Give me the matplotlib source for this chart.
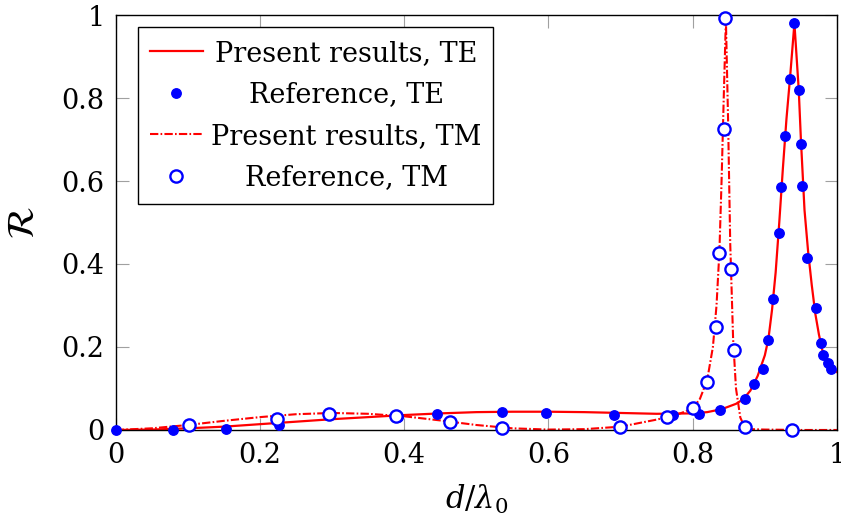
import numpy as np
import matplotlib
matplotlib.use("Agg")
import matplotlib.pyplot as plt

# ---- data -----------------------------------------------------------------
te_line_x = [0, 0.05, 0.1, 0.15, 0.2, 0.25, 0.3, 0.35, 0.4, 0.45, 0.5, 0.55,
             0.6, 0.65, 0.7, 0.75, 0.8, 0.82, 0.84, 0.86, 0.87, 0.88, 0.89,
             0.9, 0.905, 0.91, 0.915, 0.92, 0.925, 0.93, 0.935, 0.941, 0.947,
             0.95, 0.955, 0.96, 0.965, 0.97, 0.975, 0.98, 0.99, 1.0]
te_line_y = [0, 0.001, 0.004, 0.008, 0.014, 0.020, 0.026, 0.031, 0.036, 0.040,
             0.043, 0.044, 0.044, 0.043, 0.041, 0.039, 0.040, 0.043, 0.050,
             0.063, 0.074, 0.095, 0.13, 0.18, 0.22, 0.29, 0.38, 0.50, 0.63,
             0.75, 0.85, 0.98, 0.82, 0.70, 0.53, 0.43, 0.35, 0.28, 0.23, 0.19,
             0.16, 0.14]

te_ref_x = [0.0, 0.079, 0.153, 0.227, 0.391, 0.445, 0.536, 0.597, 0.691,
            0.772, 0.809, 0.838, 0.872, 0.885, 0.897, 0.904, 0.912, 0.919,
            0.923, 0.928, 0.935, 0.941, 0.947, 0.950, 0.952, 0.959, 0.971,
            0.978, 0.981, 0.988, 0.992]
te_ref_y = [0.0, 0.0, 0.003, 0.012, 0.031, 0.039, 0.043, 0.042, 0.036, 0.036,
            0.038, 0.049, 0.074, 0.112, 0.147, 0.217, 0.316, 0.475, 0.586,
            0.708, 0.847, 0.981, 0.819, 0.690, 0.588, 0.415, 0.293, 0.209,
            0.181, 0.162, 0.146]

tm_line_x = [0, 0.05, 0.1, 0.15, 0.2, 0.25, 0.3, 0.35, 0.4, 0.45, 0.5, 0.55,
             0.6, 0.65, 0.7, 0.75, 0.78, 0.8, 0.81, 0.82, 0.828, 0.833, 0.837,
             0.84, 0.843, 0.846, 0.849, 0.852, 0.856, 0.86, 0.866, 0.872,
             0.88, 0.9, 0.95, 1.0]
tm_line_y = [0, 0.004, 0.012, 0.022, 0.031, 0.038, 0.041, 0.039, 0.033,
             0.023, 0.012, 0.004, 0.001, 0.002, 0.008, 0.025, 0.038, 0.052,
             0.075, 0.12, 0.2, 0.3, 0.43, 0.6, 0.8, 0.99, 0.75, 0.45, 0.22,
             0.1, 0.03, 0.007, 0.002, 0.001, 0.0, 0.0]

tm_ref_x = [0.102, 0.223, 0.296, 0.389, 0.464, 0.536, 0.699, 0.764, 0.801,
            0.820, 0.832, 0.837, 0.843, 0.845, 0.853, 0.857, 0.873, 0.937]
tm_ref_y = [0.012, 0.027, 0.039, 0.034, 0.019, 0.004, 0.006, 0.032, 0.052,
            0.116, 0.249, 0.426, 0.725, 0.994, 0.387, 0.193, 0.007, 0.001]

xticks = [0, 0.2, 0.4, 0.6, 0.8, 1]
yticks = [0, 0.2, 0.4, 0.6, 0.8, 1]
ticklabels = ["0", "0.2", "0.4", "0.6", "0.8", "1"]

# ---- style -----------------------------------------------------------------
plt.rcParams["font.family"] = "DejaVu Serif"
plt.rcParams["mathtext.fontset"] = "dejavuserif"
plt.rcParams["lines.scale_dashes"] = False
RED, BLUE = "#ff0000", "#0000ff"
FS = 19.5

fig = plt.figure(figsize=(8.41, 5.27), dpi=100)
ax = fig.add_axes([0.1376, 0.1841, 0.8576, 0.7874])

ax.plot(te_line_x, te_line_y, color=RED, lw=1.6, label="Present results, TE")
ax.plot(te_ref_x, te_ref_y, ls="none", marker="o", ms=6.8, color=BLUE,
        clip_on=False, zorder=3, label="Reference, TE")
ax.plot(tm_line_x, tm_line_y, color=RED, lw=1.5, dashes=(6.0, 1.6, 1.2, 1.6),
        label="Present results, TM")
ax.plot(tm_ref_x, tm_ref_y, ls="none", marker="o", ms=8.8, mfc="white",
        mec=BLUE, mew=1.7, clip_on=False, zorder=4, label="Reference, TM")

ax.set_xlim(0, 1)
ax.set_ylim(0, 1)
ax.set_xticks(xticks)
ax.set_yticks(yticks)
ax.set_xticklabels(ticklabels)
ax.set_yticklabels(ticklabels)
ax.tick_params(direction="in", length=9, width=0.8, color="#a0a0a0",
               top=True, right=True, labelsize=FS)
ax.tick_params(axis="x", pad=9)
ax.tick_params(axis="y", pad=8)
for sp in ax.spines.values():
    sp.set_linewidth(1.0)
    sp.set_color("black")

ax.set_xlabel(r"$d/\lambda_0$", fontsize=22, labelpad=10)
ax.set_ylabel(r"$\mathcal{R}$", fontsize=27, labelpad=14)

leg = ax.legend(loc="upper left", bbox_to_anchor=(0.0305, 0.970),
                borderaxespad=0, fontsize=FS, fancybox=False,
                edgecolor="black", framealpha=1, handlelength=1.95,
                handletextpad=0.3, labelspacing=0.54, borderpad=0.45)
leg.get_frame().set_linewidth(1.0)

# centre the legend entries like pgfplots does
fig.canvas.draw()
texts = leg.get_texts()
widths = [t.get_window_extent().width for t in texts]
wmax = max(widths)
for t, w in zip(texts, widths):
    t.set_x((wmax - w) / 2)

fig.savefig("out.png", dpi=100)
